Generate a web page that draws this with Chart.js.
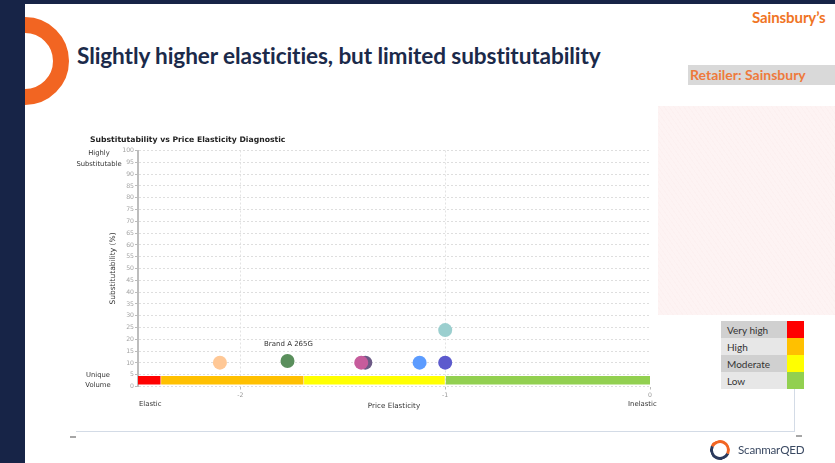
<!DOCTYPE html>
<html>
<head>
<meta charset="utf-8">
<script src="https://cdn.jsdelivr.net/npm/chart.js@4.4.0/dist/chart.umd.min.js"></script>
<style>
  body { margin: 0; }
  #slide { position: relative; width: 835px; height: 463px; background: #fff; overflow: hidden; font-family: Lato, sans-serif; }
  .abs { position: absolute; }
  #navyLeft { left: 0; top: 0; width: 25px; height: 463px; background: #172447; z-index: 3; }
  #navyTop { left: 0; top: 0; width: 835px; height: 4px; background: #172447; z-index: 3; }
  #ring { left: -19px; top: 17px; width: 88px; height: 88px; box-sizing: border-box; border: 16px solid #f26522; border-radius: 50%; z-index: 2; }
  #headline { left: 77px; top: 42px; font-size: 22.6px; font-weight: 700; color: #1b2a4a; white-space: nowrap; letter-spacing: -0.1px; }
  #brand { left: 752px; top: 8px; font-size: 15px; font-weight: 700; color: #f07424; white-space: nowrap; letter-spacing: -0.1px; }
  #retailer { left: 688px; top: 65px; width: 147px; height: 20px; background: #d9d9d9; }
  #retailer span { position: absolute; left: 2px; top: 1px; font-size: 14px; font-weight: 700; color: #ee7a3c; white-space: nowrap; }
  #texture { left: 658px; top: 106px; width: 177px; height: 209px; background: #fdf3f3;
             background-image: repeating-linear-gradient(55deg, rgba(240,205,205,0.08) 0 1px, rgba(255,255,255,0) 1px 4px); }
  #frameR { left: 794px; top: 389px; width: 1px; height: 43px; background: #d3dbe6; }
  #frameB { left: 76px; top: 431px; width: 719px; height: 1px; background: #d3dbe6; }
  .dash { height: 2px; width: 6px; background: #a6a6a6; top: 436px; }
  #chartBox { left: 76px; top: 128px; width: 719px; height: 303px; }
  .ctext { font-family: "DejaVu Sans", sans-serif; color: #333; white-space: nowrap; }
  #ctitle { left: 90px; top: 135px; font-size: 7.7px; font-weight: 700; color: #222; }
  #high { left: 73px; top: 148px; width: 52px; text-align: center; font-size: 6.8px; line-height: 10.5px; }
  #unique { left: 72px; top: 370px; width: 52px; text-align: center; font-size: 6.8px; line-height: 10px; }
  #elastic { left: 139px; top: 400px; font-size: 6.9px; }
  #inelastic { left: 628px; top: 400px; font-size: 6.9px; }
  #legendTbl { left: 721px; top: 321px; border-collapse: collapse; font-size: 10px; color: #333; }
  #legendTbl td { padding: 0; height: 17px; }
  #legendTbl td.lab { width: 60px; padding-left: 6px; }
  #legendTbl td.sw { width: 17px; }
  #logoText { left: 738px; top: 443px; font-size: 11.6px; color: #3b4a63; white-space: nowrap; letter-spacing: -0.2px; }
  #logoRing { left: 710px; top: 440px; width: 20px; height: 20px; box-sizing: border-box; border-radius: 50%; border: 3px solid #2b3a5c; border-top-color: #f26522; border-right-color: #f26522; transform: rotate(-20deg); }
</style>
</head>
<body>
<div id="slide">
  <div id="ring" class="abs"></div>
  <div id="navyLeft" class="abs"></div>
  <div id="navyTop" class="abs"></div>
  <div id="headline" class="abs">Slightly higher elasticities, but limited substitutability</div>
  <div id="brand" class="abs">Sainsbury’s</div>
  <div id="retailer" class="abs"><span>Retailer: Sainsbury</span></div>
  <div id="texture" class="abs"></div>

  <div id="frameR" class="abs"></div>
  <div id="frameB" class="abs"></div>
  <div class="abs dash" style="left:70px"></div>
  <div class="abs dash" style="left:796px;top:435px"></div>

  <div id="chartBox" class="abs"><canvas id="chart" width="719" height="303"></canvas></div>
  <div id="ctitle" class="abs ctext">Substitutability vs Price Elasticity Diagnostic</div>
  <div id="high" class="abs ctext">Highly<br>Substitutable</div>
  <div id="unique" class="abs ctext">Unique<br>Volume</div>
  <div id="elastic" class="abs ctext">Elastic</div>
  <div id="inelastic" class="abs ctext">Inelastic</div>

  <table id="legendTbl" class="abs"></table>

  <div id="logoRing" class="abs"></div>
  <div id="logoText" class="abs">ScanmarQED</div>
</div>

<script>
// products: price elasticity vs substitutability
const elasticity = [-2.10, -1.77, -1.39, -1.41, -1.125, -1.0, -1.0];
const substitutability = [10.1, 10.8, 10.1, 10.1, 10.1, 10.1, 23.9];
const pointColors = ['#ffc896', '#5a8f5c', '#6c5a86', '#c65c9c', '#5c9cff', '#5c5acd', '#9bcfcf'];
const pointNames = ['', 'Brand A 265G', '', '', '', '', ''];

// elasticity bands along the bottom of the plot
const bandFrom = [-2.5, -2.387, -1.689, -0.997];
const bandTo = [-2.39, -1.692, -1.002, 0];
const bandColors = ['#ff0000', '#ffc000', '#ffff00', '#92d050'];
const bandLevel = 2.65;

// legend rows
const legendNames = ['Very high', 'High', 'Moderate', 'Low'];
const legendShades = ['#d0d0d0', '#e7e7e7', '#d0d0d0', '#e7e7e7'];

const xTicks = [-2, -1, 0];

const tbl = document.getElementById('legendTbl');
legendNames.forEach((n, i) => {
    const tr = document.createElement('tr');
    tr.innerHTML = `<td class="lab" style="background:${legendShades[i]}">${n}</td><td class="sw" style="background:${bandColors[i]}"></td>`;
    tbl.appendChild(tr);
});

const pointLabels = {
    id: 'pointLabels',
    afterDatasetsDraw(chart) {
        const meta = chart.getDatasetMeta(0);
        const c = chart.ctx;
        c.save();
        c.font = '7px "DejaVu Sans"';
        c.fillStyle = '#333';
        c.textAlign = 'center';
        c.textBaseline = 'middle';
        pointNames.forEach((name, i) => {
            if (!name) return;
            const p = meta.data[i];
            c.fillText(name, p.x + 1, p.y - 17);
        });
        c.restore();
    }
};

const datasets = [{
    data: elasticity.map((x, i) => ({ x, y: substitutability[i] })),
    backgroundColor: pointColors,
    borderWidth: 0,
    pointRadius: 7,
    order: 1
}];

bandFrom.forEach((from, i) => {
    datasets.push({
        data: [{ x: from, y: bandLevel }, { x: bandTo[i], y: bandLevel }],
        showLine: true,
        borderColor: bandColors[i],
        borderWidth: 8.5,
        borderCapStyle: 'butt',
        pointRadius: 0,
        order: 2
    });
});

Chart.defaults.font.family = "'DejaVu Sans', sans-serif";

const ctx = document.getElementById('chart').getContext('2d');
new Chart(ctx, {
    type: 'scatter',
    data: { datasets },
    options: {
        responsive: false,
        animation: false,
        events: [],
        layout: { padding: { left: 32, top: 22.5, right: 145, bottom: 0 } },
        plugins: { legend: { display: false }, tooltip: { enabled: false } },
        scales: {
            x: {
                min: -2.5,
                max: 0,
                afterBuildTicks: axis => { axis.ticks = xTicks.map(v => ({ value: v })); },
                afterFit: axis => { axis.height = 44.5; },
                ticks: { color: '#999', font: { size: 6.2 }, padding: 2.5 },
                grid: {
                    color: c => (c.tick && c.tick.value < 0) ? '#e3e3e3' : 'rgba(0,0,0,0)',
                    tickColor: '#bbb',
                    tickLength: 3
                },
                border: { display: false, dash: [2, 2] },
                title: { display: true, text: 'Price Elasticity', color: '#333', font: { size: 7.2 }, padding: { top: 0, bottom: 21 } }
            },
            y: {
                min: 0,
                max: 100,
                afterFit: axis => { axis.width = 30; },
                ticks: { stepSize: 5, color: '#a3a3a3', font: { size: 6.2 }, padding: 1 },
                grid: { color: '#dedede', tickColor: '#bbb', tickLength: 3 },
                border: { display: true, color: '#bdbdbd', width: 2, dash: [2, 2] },
                title: { display: true, text: 'Substitutability (%)', color: '#333', font: { size: 7.5 }, padding: { top: 0.5, bottom: 0 } }
            }
        }
    },
    plugins: [pointLabels]
});
</script>
</body>
</html>
